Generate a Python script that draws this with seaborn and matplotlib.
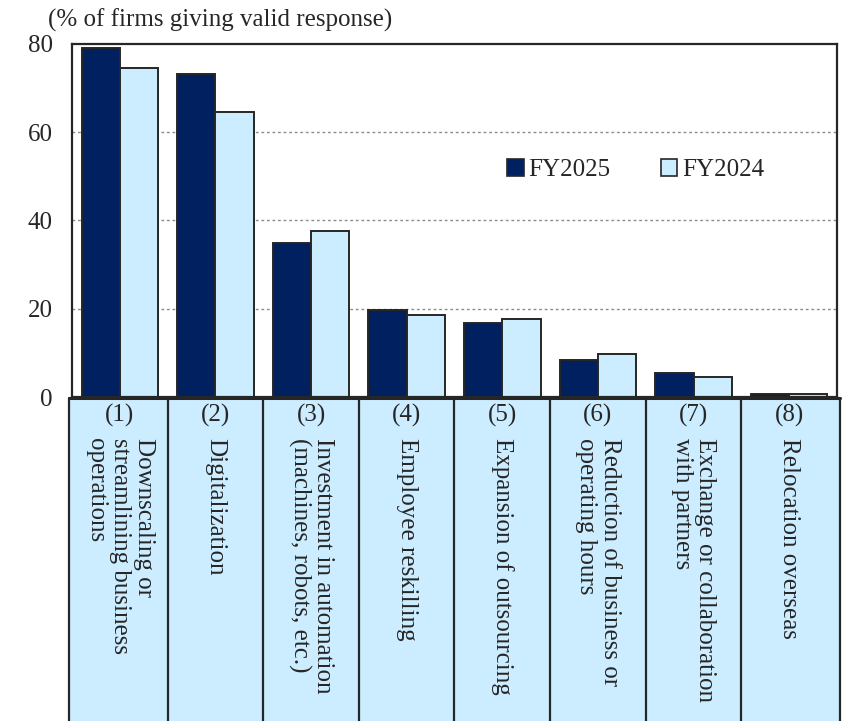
import matplotlib
matplotlib.use("Agg")
import matplotlib.pyplot as plt
import matplotlib.transforms as mtransforms
from matplotlib.patches import Rectangle, Patch
import seaborn as sns
import pandas as pd

# Measures taken, share of firms (%)
cat_nums = ["(1)", "(2)", "(3)", "(4)", "(5)", "(6)", "(7)", "(8)"]
cat_labels = [
    "Downscaling or\nstreamlining business\noperations",
    "Digitalization",
    "Investment in automation\n(machines, robots, etc.)",
    "Employee reskilling",
    "Expansion of outsourcing",
    "Reduction of business or\noperating hours",
    "Exchange or collaboration\nwith partners",
    "Relocation overseas",
]
fy2025 = [79.1, 73.2, 34.9, 19.8, 16.8, 8.3, 5.4, 0.6]
fy2024 = [74.6, 64.6, 37.6, 18.5, 17.7, 9.8, 4.5, 0.6]
series = ["FY2025", "FY2024"]
yticks = [0, 20, 40, 60, 80]

dark = "#002060"
light = "#CCECFF"
edge = "#262626"

sns.set_style("white")
plt.rcParams["font.family"] = ["Liberation Serif", "DejaVu Serif"]

df = pd.DataFrame({
    "cat": cat_nums * 2,
    "series": [series[0]] * len(cat_nums) + [series[1]] * len(cat_nums),
    "value": fy2025 + fy2024,
})

fig = plt.figure(figsize=(8.45, 7.21), dpi=100)
ax = fig.add_axes([72 / 845, 1 - 397 / 721, (837 - 72) / 845, (397 - 44) / 721])

sns.barplot(data=df, x="cat", y="value", hue="series", order=cat_nums,
            hue_order=series, palette=[dark, light], width=0.8, gap=0,
            edgecolor=edge, linewidth=1.4, saturation=1, ax=ax, legend=True)

ax.set_xlim(-0.5, len(cat_nums) - 0.5)
ax.set_ylim(0, 80)
ax.set_yticks(yticks)
ax.set_yticklabels([str(v) for v in yticks], fontsize=18)
ax.tick_params(axis="y", length=0, pad=14)
ax.set_xticks([])
ax.set_xlabel("")
ax.set_ylabel("")
for v in yticks[1:-1]:
    ax.axhline(v, color="#8c8c8c", lw=1.0, ls=(0, (2, 2)), zorder=0)
for s in ax.spines.values():
    s.set_color(edge)
    s.set_linewidth(1.6)

handles = [Patch(facecolor=dark, edgecolor=edge, lw=1.2),
           Patch(facecolor=light, edgecolor=edge, lw=1.2)]
ax.legend(handles, series, loc="center", bbox_to_anchor=(0.737, 0.643),
          ncol=2, frameon=False, fontsize=18, handlelength=0.65,
          handleheight=0.65, handletextpad=0.2, columnspacing=2.0)

fig.text(48 / 845, 1 - 20 / 721, "(% of firms giving valid response)",
         fontsize=18, ha="left", va="center")

# Category table underneath the bars
trans = mtransforms.blended_transform_factory(ax.transData, fig.transFigure)
top = 1 - 398 / 721
left, right = -0.53, len(cat_nums) - 0.47
ax.add_patch(Rectangle((left, -0.1), right - left, top + 0.1, transform=trans,
                       facecolor=light, edgecolor="none", clip_on=False, zorder=1))
ax.plot([left, right], [top, top], transform=trans, color=edge, lw=2.2,
        clip_on=False, zorder=3)
for i in range(len(cat_nums) + 1):
    x = left if i == 0 else (right if i == len(cat_nums) else i - 0.5)
    ax.plot([x, x], [-0.1, top], transform=trans, color=edge, lw=1.6,
            clip_on=False, zorder=3)
for i, (num, lab) in enumerate(zip(cat_nums, cat_labels)):
    ax.text(i, 1 - 415 / 721, num, transform=trans, fontsize=18,
            ha="center", va="center", zorder=4)
    ax.text(i, 1 - 438 / 721, lab, transform=trans, fontsize=18,
            rotation=-90, ha="center", va="top", multialignment="left",
            linespacing=1.1, zorder=4)

fig.savefig("out.png", dpi=100)
